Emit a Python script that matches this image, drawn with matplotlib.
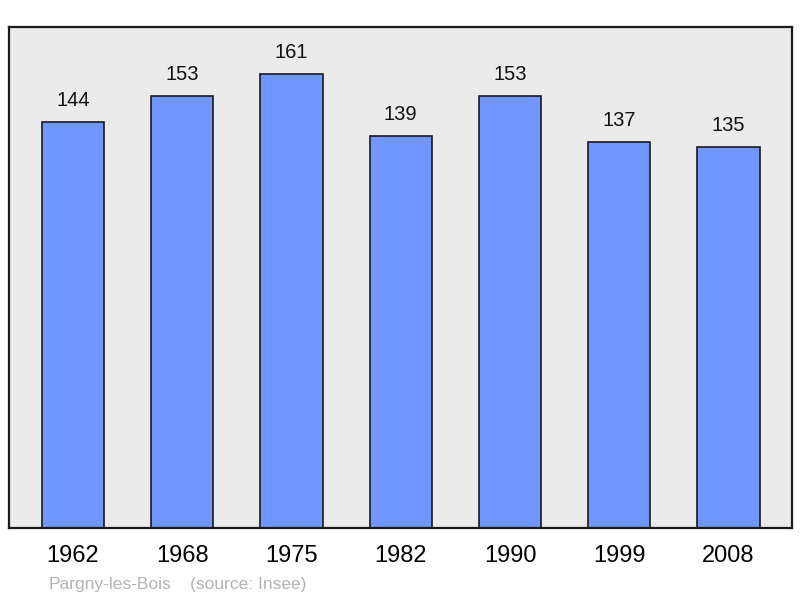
import matplotlib.pyplot as plt

years = ["1962", "1968", "1975", "1982", "1990", "1999", "2008"]
population = [144, 153, 161, 139, 153, 137, 135]

plt.rcParams['font.family'] = ['Liberation Sans', 'DejaVu Sans']

fig = plt.figure(figsize=(8, 5.98), dpi=100)
ax = fig.add_axes([9 / 800, 70 / 598, 783 / 800, 501 / 598])
ax.set_facecolor('#ebebeb')

x = list(range(len(years)))
ax.bar(x, population, width=0.57, color='#7097ff', edgecolor='#1a1a1a', linewidth=1.2, zorder=2)

for xi, v in zip(x, population):
    ax.annotate(str(v), (xi, v), xytext=(0, 15.5), textcoords='offset points',
                ha='center', va='center', fontsize=14.5, color='#111111')

ax.set_xlim(-0.585, 6.58)
ax.set_ylim(0, 177.6)
ax.set_xticks(x)
ax.set_xticklabels(years, fontsize=17)
ax.tick_params(axis='x', length=0, pad=12)
ax.set_yticks([])
for s in ax.spines.values():
    s.set_linewidth(1.6)
    s.set_color('#1a1a1a')

fig.text(49 / 800, 1 - 584 / 598, "Pargny-les-Bois", fontsize=12.5, color='#b3b3b3', va='center')
fig.text(190 / 800, 1 - 584 / 598, "(source: Insee)", fontsize=12.5, color='#b3b3b3', va='center')

fig.savefig('out.png', dpi=100)
